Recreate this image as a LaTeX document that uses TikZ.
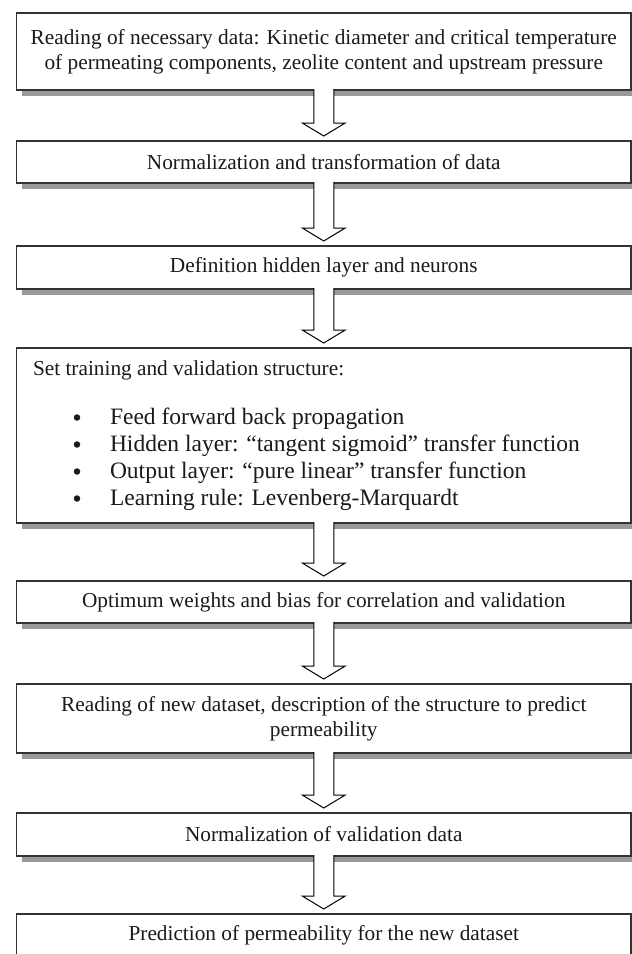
\documentclass[tikz,border=0pt]{standalone}
\usepackage{fontspec}
\setmainfont{Liberation Serif}
\usetikzlibrary{calc,shadows}
\definecolor{boxc}{HTML}{333333}
\definecolor{shadowc}{HTML}{999999}
\definecolor{txtc}{HTML}{1A1A1A}
\newcommand{\boxfont}{\fontsize{21.3}{25}\selectfont}
\newcommand{\bulfont}{\fontsize{23.5}{26.7}\selectfont}
\newcommand{\flowarrow}[2]{%
  \draw[blockarrow] ($(#1.south)+(-10,-1)$) -- ($(#2.north)+(-10,-18)$) -- ($(#2.north)+(-21.5,-18)$) -- ($(#2.north)+(0,-5)$) -- ($(#2.north)+(21.5,-18)$) -- ($(#2.north)+(10,-18)$) -- ($(#1.south)+(10,-1)$);}
\tikzset{
  box/.style={draw=boxc, line width=1.6pt, fill=white, rectangle, minimum width=614.5pt,
    anchor=north west, inner sep=0pt, outer sep=0pt, align=center, font=\boxfont, text=txtc,
    drop shadow={shadow xshift=5pt, shadow yshift=-6pt, opacity=1, fill=shadowc}},
  blockarrow/.style={draw=black, line width=1pt, fill=white, line join=miter},
  plain/.style={inner sep=0pt, outer sep=0pt, text=txtc, anchor=base west},
  dot/.style={circle, fill=txtc, inner sep=0pt, minimum size=6.5pt},
}
\begin{document}
\begin{tikzpicture}[x=1pt,y=-1pt]
\useasboundingbox (0,0) rectangle (632,954);
\clip (0,0) rectangle (632,954);
\node[box, minimum height=77pt] (b1) at (16.5,13) {Reading of necessary data: Kinetic diameter and critical temperature\\of permeating components, zeolite content and upstream pressure};
\node[box, minimum height=42pt] (b2) at (16.5,141) {Normalization and transformation of data};
\node[box, minimum height=43pt] (b3) at (16.5,246) {Definition hidden layer and neurons};
\node[box, minimum height=175pt] (b4) at (16.5,348) {};
\node[box, minimum height=42pt] (b5) at (16.5,581) {Optimum weights and bias for correlation and validation};
\node[box, minimum height=69pt] (b6) at (16.5,684) {Reading of new dataset, description of the structure to predict\\permeability};
\node[box, minimum height=43pt] (b7) at (16.5,813) {Normalization of validation data};
\node[box, minimum height=43pt] (b8) at (16.5,914) {Prediction of permeability for the new dataset};
% contents of box 4
\node[plain, font=\boxfont] (t4) at (33,375) {Set training and validation structure:};
\foreach \i/\y/\txt in {1/424/{Feed forward back propagation},
                        2/451/{Hidden layer: “tangent sigmoid” transfer function},
                        3/478/{Output layer: “pure linear” transfer function},
                        4/505/{Learning rule: Levenberg-Marquardt}}{
  \node[plain, font=\bulfont] (l\i) at (110,\y) {\txt};
  \node[dot] (d\i) at ($(l\i.base west)+(-33,-6.5)$) {};
}
% arrows
\flowarrow{b1}{b2}
\flowarrow{b2}{b3}
\flowarrow{b3}{b4}
\flowarrow{b4}{b5}
\flowarrow{b5}{b6}
\flowarrow{b6}{b7}
\flowarrow{b7}{b8}
\end{tikzpicture}
\end{document}
